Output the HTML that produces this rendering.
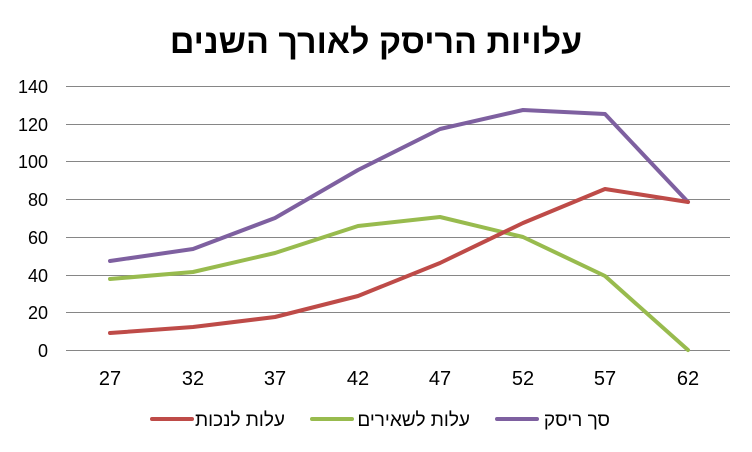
<!DOCTYPE html>
<html><head><meta charset="utf-8"><style>
body{margin:0;background:#fff;}
svg{display:block;font-family:"Liberation Sans","Noto Sans CJK SC",sans-serif;}
</style></head><body>
<svg width="752" height="452" viewBox="0 0 752 452">
<text x="376" y="53" text-anchor="middle" font-size="34" font-weight="bold" fill="#000" direction="rtl">עלויות הריסק לאורך השנים</text>
<g stroke="#868686" stroke-width="1">
<line x1="66" y1="86.5" x2="730" y2="86.5"/>
<line x1="66" y1="124.5" x2="730" y2="124.5"/>
<line x1="66" y1="161.5" x2="730" y2="161.5"/>
<line x1="66" y1="199.5" x2="730" y2="199.5"/>
<line x1="66" y1="237.5" x2="730" y2="237.5"/>
<line x1="66" y1="275.5" x2="730" y2="275.5"/>
<line x1="66" y1="312.5" x2="730" y2="312.5"/>
<line x1="66" y1="350.5" x2="730" y2="350.5"/>
</g>
<g font-size="18" fill="#000" text-anchor="end">
<text x="48" y="93">140</text><text x="48" y="131">120</text><text x="48" y="168">100</text>
<text x="48" y="206">80</text><text x="48" y="244">60</text><text x="48" y="282">40</text>
<text x="48" y="319">20</text><text x="48" y="357">0</text>
</g>
<g font-size="20" fill="#000" text-anchor="middle">
<text x="110" y="385">27</text><text x="193" y="385">32</text><text x="275" y="385">37</text>
<text x="358" y="385">42</text><text x="440" y="385">47</text><text x="523" y="385">52</text>
<text x="605" y="385">57</text><text x="688" y="385">62</text>
</g>
<g fill="none" stroke-width="4" stroke-linejoin="round" stroke-linecap="round">
<polyline stroke="#7E60A0" points="110,261 193,249 275,218 358,170 440,129 523,110 605,114 688,202"/>
<polyline stroke="#98BB4E" points="110,279 193,272 275,253 358,226 440,217 523,237 605,276 688,350"/>
<polyline stroke="#BE4B48" points="110,333 193,327 275,317 358,296 440,263 523,223 605,189 688,202"/>
</g>
<g stroke-width="4" stroke-linecap="round">
<line x1="152" y1="419" x2="192" y2="419" stroke="#BE4B48"/>
<line x1="312" y1="419" x2="352" y2="419" stroke="#98BB4E"/>
<line x1="497" y1="419" x2="537" y2="419" stroke="#7E60A0"/>
</g>
<g font-size="19" fill="#000" direction="rtl">
<text x="285" y="426">עלות לנכות</text>
<text x="470" y="426">עלות לשאירים</text>
<text x="610" y="426">סך ריסק</text>
</g>
</svg>
</body></html>
